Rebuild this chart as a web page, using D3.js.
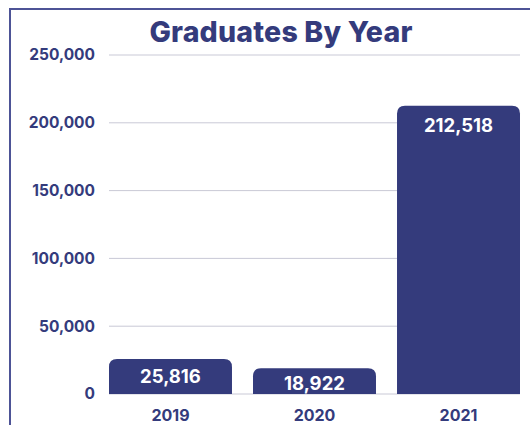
<!DOCTYPE html>
<html><head><meta charset="utf-8">
<script src="https://cdn.jsdelivr.net/npm/d3@7"></script>
<style>body{margin:0;background:#fff;}svg{display:block;font-family:Inter,"Open Sans",sans-serif;}</style>
</head><body>
<script>
const years = ["2019","2020","2021"];
const graduates = [25816, 18922, 212518];
const yTicks = [0, 50000, 100000, 150000, 200000, 250000];
const title = "Graduates By Year";

const W = 530, H = 425;
const navy = "#343b7c";
const svg = d3.select("body").append("svg").attr("width", W).attr("height", H);

// frame
svg.append("line").attr("x1",10).attr("x2",W).attr("y1",9).attr("y2",9).attr("stroke","#4d5396").attr("stroke-width",2);
svg.append("line").attr("x1",10).attr("x2",10).attr("y1",8).attr("y2",H).attr("stroke","#4d5396").attr("stroke-width",2);

const x = d3.scaleBand().domain(years).range([109, 520]).paddingInner(0.146).paddingOuter(0);
const y = d3.scaleLinear().domain([0, 250000]).range([394, 55]);

svg.append("text").attr("x", 281).attr("y", 42).attr("text-anchor","middle")
  .attr("font-size", 28.5).attr("font-weight", 800).attr("fill", navy).attr("letter-spacing", 0.2).text(title);

// grid
svg.append("g").selectAll("line").data(yTicks).join("line")
  .attr("x1",x.range()[0]).attr("x2",x.range()[1]).attr("y1",d=>y(d)).attr("y2",d=>y(d))
  .attr("stroke","#c9c9d6").attr("stroke-width",1);

// y axis
const ya = svg.append("g").attr("transform","translate(95,0)")
  .call(d3.axisLeft(y).tickValues(yTicks).tickSize(0).tickPadding(0).tickFormat(d3.format(",")));
ya.select(".domain").remove();
ya.selectAll("text").attr("font-size",15.5).attr("font-weight",700).attr("fill",navy).attr("font-family","Inter,sans-serif");

// x axis
const xa = svg.append("g").attr("transform","translate(0,410)")
  .call(d3.axisBottom(x).tickSize(0).tickPadding(0));
xa.select(".domain").remove();
xa.selectAll("text").attr("dy","0.71em").attr("font-size",16).attr("font-weight",700).attr("fill",navy).attr("font-family","Inter,sans-serif");

const data = years.map((yr,i)=>({yr, v: graduates[i]}));
svg.append("defs").append("clipPath").attr("id","clip").append("rect")
  .attr("x",0).attr("y",0).attr("width",W).attr("height",y(0));

const r = 8;
function barPath(d){
  const x0 = x(d.yr), x1 = x0 + x.bandwidth(), t = y(d.v), b = y(0);
  return `M${x0},${b}V${t+r}Q${x0},${t} ${x0+r},${t}H${x1-r}Q${x1},${t} ${x1},${t+r}V${b}Z`;
}
const g = svg.append("g").attr("clip-path","url(#clip)");
g.selectAll("path").data(data).join("path").attr("d", barPath).attr("fill", navy);
g.selectAll("text").data(data).join("text")
  .attr("x", d=>x(d.yr)+x.bandwidth()/2)
  .attr("y", d=>Math.min(y(d.v)+26, Math.max(y(0)-11, y(d.v)+22)))
  .attr("text-anchor","middle").attr("font-size",18.5).attr("font-weight",700).attr("fill","#fff")
  .text(d=>d3.format(",")(d.v));
</script>
</body></html>
